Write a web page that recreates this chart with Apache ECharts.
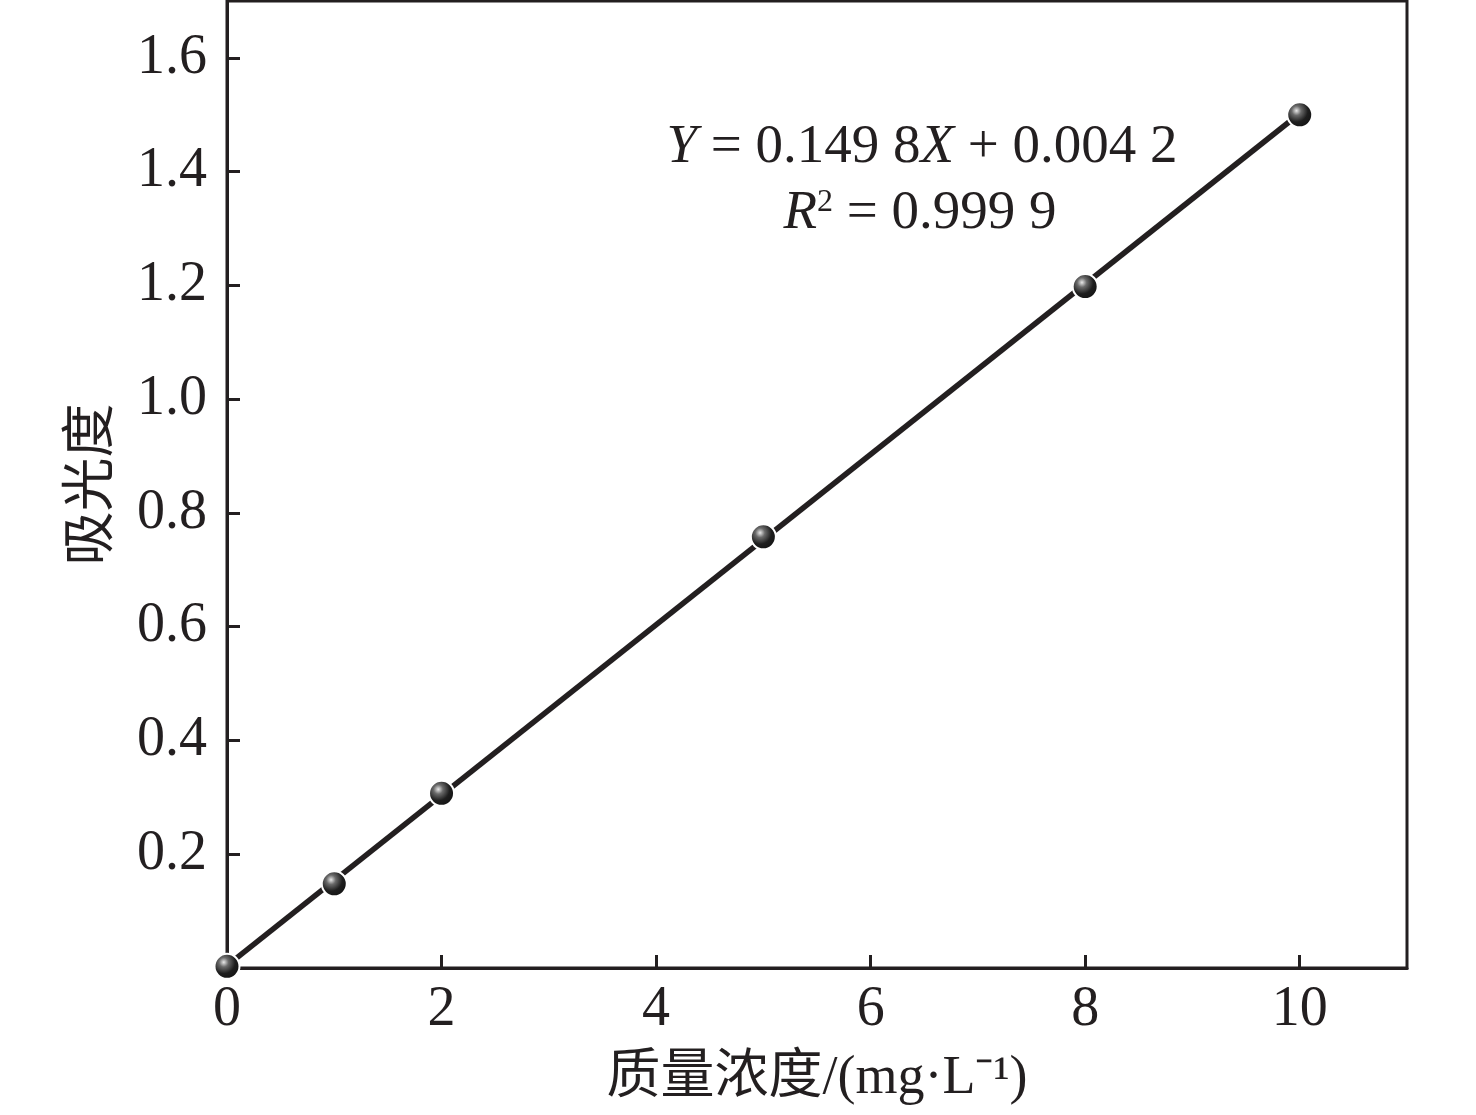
<!DOCTYPE html>
<html>
<head>
<meta charset="utf-8">
<script src="https://cdn.jsdelivr.net/npm/echarts@6/dist/echarts.min.js"></script>
<style>
html,body{margin:0;padding:0;background:#fff;}
#chart{width:1476px;height:1115px;}
</style>
</head>
<body>
<div id="chart"></div>
<script>
// Measured points
var concX = [0, 1, 2, 5, 8, 10];
var absorbY = [0.003, 0.148, 0.307, 0.758, 1.198, 1.500];
// Fitted line endpoints (Y = 0.1498X + 0.0042)
var fitX = [0, 10];
var fitY = [0.0042, 1.5022];
// Tick labels
var xTicks = [0, 2, 4, 6, 8, 10];
var yTicks = [0.2, 0.4, 0.6, 0.8, 1.0, 1.2, 1.4, 1.6];

var serif = '"Liberation Serif","Times New Roman",serif';
var mixed = '"Liberation Serif","Noto Sans CJK SC",serif';
var ink = '#231f20';

var chart = echarts.init(document.getElementById('chart'));
chart.setOption({
  backgroundColor: '#fff',
  animation: false,
  grid: {
    left: 227, right: 69, top: 1, bottom: 147,
    show: true, borderColor: ink, borderWidth: 3, backgroundColor: 'transparent'
  },
  xAxis: {
    type: 'value', min: 0, max: 11,
    name: '质量浓度/(mg·L⁻¹)', nameLocation: 'middle', nameGap: 84,
    nameTextStyle: { fontFamily: mixed, fontSize: 54, color: ink },
    axisLine: { show: true, lineStyle: { color: ink, width: 3 } },
    axisTick: { show: true, inside: true, length: 13, customValues: xTicks, lineStyle: { color: ink, width: 3 } },
    axisLabel: { customValues: xTicks, fontFamily: serif, fontSize: 56, color: ink, margin: 14,
      formatter: function (v) { return String(v); } },
    splitLine: { show: false }
  },
  yAxis: {
    type: 'value', min: 0, max: 1.7,
    name: '吸光度', nameLocation: 'middle', nameGap: 106, nameRotate: 90,
    nameTextStyle: { fontFamily: mixed, fontSize: 54, color: ink },
    axisLine: { show: true, lineStyle: { color: ink, width: 3 } },
    axisTick: { show: true, inside: true, length: 13, customValues: yTicks, lineStyle: { color: ink, width: 3 } },
    axisLabel: { customValues: yTicks, fontFamily: serif, fontSize: 56, color: ink, margin: 20,
      formatter: function (v) { return v.toFixed(1); } },
    splitLine: { show: false }
  },
  series: [
    {
      type: 'line',
      data: fitX.map(function (x, i) { return [x, fitY[i]]; }),
      symbol: 'none',
      lineStyle: { color: ink, width: 5.5 },
      z: 2
    },
    {
      type: 'scatter',
      data: concX.map(function (x, i) { return [x, absorbY[i]]; }),
      symbol: 'circle',
      symbolSize: 25,
      itemStyle: {
        color: {
          type: 'radial', x: 0.38, y: 0.35, r: 0.7,
          colorStops: [
            { offset: 0, color: '#e8e8e8' },
            { offset: 0.25, color: '#6a6a6a' },
            { offset: 0.6, color: '#1e1e1e' },
            { offset: 1, color: '#111' }
          ]
        },
        borderColor: '#fff', borderWidth: 2, opacity: 1
      },
      z: 3
    }
  ],
  graphic: [
    {
      type: 'text', x: 922, y: 148,
      style: {
        text: '{i|Y} = 0.149 8{i|X} + 0.004 2',
        font: '55px ' + serif, fill: ink, align: 'center', verticalAlign: 'middle',
        rich: { i: { fontStyle: 'italic', fontFamily: serif, fontSize: 55, fill: ink } }
      }
    },
    {
      type: 'text', x: 920, y: 214,
      style: {
        text: '{i|R}{s|2} = 0.999 9',
        font: '55px ' + serif, fill: ink, align: 'center', verticalAlign: 'middle',
        rich: {
          i: { fontStyle: 'italic', fontFamily: serif, fontSize: 55, fill: ink },
          s: { fontFamily: serif, fontSize: 32, fill: ink, verticalAlign: 'top', padding: [0, 0, 22, 0] }
        }
      }
    }
  ]
});
</script>
</body>
</html>
